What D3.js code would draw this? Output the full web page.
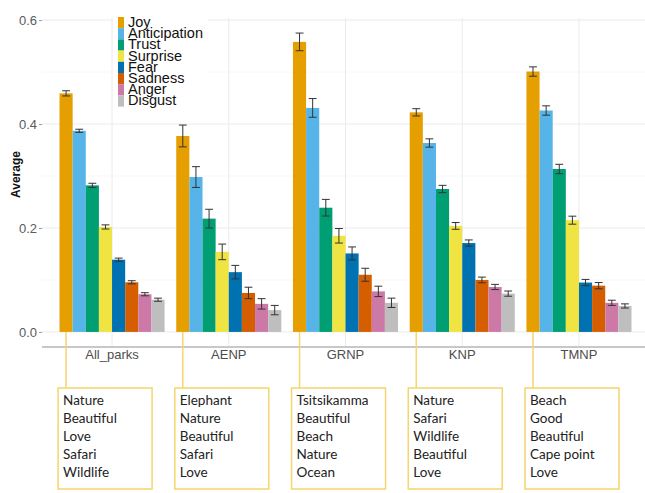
<!DOCTYPE html>
<html>
<head>
<meta charset="utf-8">
<script src="https://cdn.jsdelivr.net/npm/d3@7"></script>
<style>
  body { margin: 0; background: #fff; }
  svg text { font-family: "Liberation Sans", Arial, sans-serif; }
</style>
</head>
<body>
<div id="chart-area"></div>
<script>
// parks on the x axis
const parks = ["All_parks", "AENP", "GRNP", "KNP", "TMNP"]
const emotions = ["Joy", "Anticipation", "Trust", "Surprise", "Fear", "Sadness", "Anger", "Disgust"]
const colors = ["#E69F00", "#56B4E9", "#009E73", "#F0E442", "#0072B2", "#D55E00", "#CC79A7", "#BEBEBE"]

// average per emotion, one value per park (same order as parks)
const joy = [0.459, 0.377, 0.558, 0.4225, 0.501]
const anticipation = [0.387, 0.298, 0.431, 0.3635, 0.426]
const trust = [0.282, 0.218, 0.239, 0.275, 0.3135]
const surprise = [0.202, 0.154, 0.185, 0.204, 0.215]
const fear = [0.139, 0.115, 0.151, 0.171, 0.095]
const sadness = [0.0955, 0.075, 0.110, 0.100, 0.089]
const anger = [0.0725, 0.054, 0.078, 0.0865, 0.056]
const disgust = [0.062, 0.042, 0.056, 0.0737, 0.050]

// standard errors
const joyErr = [0.005, 0.021, 0.017, 0.007, 0.009]
const anticipationErr = [0.003, 0.020, 0.018, 0.008, 0.009]
const trustErr = [0.004, 0.018, 0.016, 0.007, 0.009]
const surpriseErr = [0.004, 0.015, 0.014, 0.0065, 0.0077]
const fearErr = [0.003, 0.013, 0.0125, 0.006, 0.006]
const sadnessErr = [0.003, 0.011, 0.0125, 0.0055, 0.006]
const angerErr = [0.003, 0.010, 0.010, 0.005, 0.005]
const disgustErr = [0.003, 0.009, 0.009, 0.005, 0.004]

const yTicks = [0, 0.2, 0.4, 0.6]
const yMinor = [0.1, 0.3, 0.5]

// top words for each park
const allParksWords = ["Nature", "Beautiful", "Love", "Safari", "Wildlife"]
const aenpWords = ["Elephant", "Nature", "Beautiful", "Safari", "Love"]
const grnpWords = ["Tsitsikamma", "Beautiful", "Beach", "Nature", "Ocean"]
const knpWords = ["Nature", "Safari", "Wildlife", "Beautiful", "Love"]
const tmnpWords = ["Beach", "Good", "Beautiful", "Cape point", "Love"]

const series = [joy, anticipation, trust, surprise, fear, sadness, anger, disgust]
const errors = [joyErr, anticipationErr, trustErr, surpriseErr, fearErr, sadnessErr, angerErr, disgustErr]
const words = [allParksWords, aenpWords, grnpWords, knpWords, tmnpWords]

const data = []
parks.forEach((p, i) => {
	emotions.forEach((e, j) => {
		data.push({ park: p, emotion: e, value: series[j][i], err: errors[j][i] })
	})
})

const width = 645, height = 493
const panel = { left: 42, right: 649, top: 18, bottom: 347 }

const svg = d3.select("#chart-area").append("svg")
	.attr("width", width)
	.attr("height", height)

const x = d3.scalePoint()
	.domain(parks)
	.range([panel.left, panel.right])
	.padding(0.6)

const step = x.step()
const xInner = d3.scaleBand()
	.domain(emotions)
	.range([-0.45 * step, 0.45 * step])

const y = d3.scaleLinear()
	.domain([-0.029, 0.604])
	.range([panel.bottom, panel.top])

const color = d3.scaleOrdinal().domain(emotions).range(colors)

// grid
svg.append("g").selectAll("line")
	.data(yMinor)
	.enter().append("line")
	.attr("x1", panel.left).attr("x2", width)
	.attr("y1", d => y(d)).attr("y2", d => y(d))
	.attr("stroke", "#f2f2f2").attr("stroke-width", 0.6)

svg.append("g").selectAll("line")
	.data(yTicks)
	.enter().append("line")
	.attr("x1", panel.left).attr("x2", width)
	.attr("y1", d => y(d)).attr("y2", d => y(d))
	.attr("stroke", "#ebebeb").attr("stroke-width", 1)

svg.append("g").selectAll("line")
	.data(parks)
	.enter().append("line")
	.attr("x1", d => x(d)).attr("x2", d => x(d))
	.attr("y1", panel.top).attr("y2", panel.bottom)
	.attr("stroke", "#ebebeb").attr("stroke-width", 1)

// bars
svg.append("g").selectAll("rect")
	.data(data)
	.enter().append("rect")
	.attr("x", d => x(d.park) + xInner(d.emotion))
	.attr("width", xInner.bandwidth())
	.attr("y", d => y(d.value))
	.attr("height", d => y(0) - y(d.value))
	.attr("fill", d => color(d.emotion))

// error bars
const eb = svg.append("g").attr("stroke", "#333").attr("stroke-width", 1)
const capW = xInner.bandwidth() * 0.3
data.forEach(d => {
	const cx = x(d.park) + xInner(d.emotion) + xInner.bandwidth() / 2
	eb.append("line").attr("x1", cx).attr("x2", cx)
		.attr("y1", y(d.value + d.err)).attr("y2", y(d.value - d.err))
	eb.append("line").attr("x1", cx - capW).attr("x2", cx + capW)
		.attr("y1", y(d.value + d.err)).attr("y2", y(d.value + d.err))
	eb.append("line").attr("x1", cx - capW).attr("x2", cx + capW)
		.attr("y1", y(d.value - d.err)).attr("y2", y(d.value - d.err))
})

// y axis
const yAxis = svg.append("g")
	.attr("transform", `translate(${panel.left},0)`)
	.call(d3.axisLeft(y).tickValues(yTicks).tickFormat(d3.format(".1f")).tickSize(3).tickPadding(2))
yAxis.select(".domain").remove()
yAxis.selectAll(".tick line").attr("stroke", "#999")
yAxis.selectAll(".tick text")
	.attr("fill", "#5a5a5a")
	.style("font-size", "13px")
	.style("font-family", "Liberation Sans, Arial, sans-serif")

svg.append("text")
	.attr("transform", `translate(20,${(panel.top + panel.bottom) / 2 - 8}) rotate(-90)`)
	.attr("text-anchor", "middle")
	.style("font-size", "12px")
	.style("font-weight", "bold")
	.attr("fill", "#111")
	.text("Average")

// x axis line and labels
svg.append("line")
	.attr("x1", panel.left).attr("x2", width)
	.attr("y1", panel.bottom).attr("y2", panel.bottom)
	.attr("stroke", "#c8c8c8").attr("stroke-width", 2)

svg.append("g").selectAll("text")
	.data(parks)
	.enter().append("text")
	.attr("x", d => x(d))
	.attr("y", 359)
	.attr("text-anchor", "middle")
	.attr("fill", "#4d4d4d")
	.style("font-size", "13px")
	.text(d => d)

// legend
const lg = svg.append("g")
lg.append("rect")
	.attr("x", 113).attr("y", 13).attr("width", 95).attr("height", 99)
	.attr("fill", "#fff")
emotions.forEach((e, i) => {
	lg.append("rect")
		.attr("x", 118).attr("y", 17 + i * 11.2)
		.attr("width", 6).attr("height", 11.2)
		.attr("fill", color(e))
	lg.append("text")
		.attr("x", 128).attr("y", 27 + i * 11.2)
		.attr("fill", "#111")
		.style("font-size", "14.5px")
		.text(e)
})

// keyword boxes under each park
const boxes = svg.append("g")
parks.forEach((p, i) => {
	const cx = x(p) + xInner("Joy") + xInner.bandwidth() / 2
	boxes.append("line")
		.attr("x1", cx).attr("x2", cx)
		.attr("y1", y(0)).attr("y2", 388)
		.attr("stroke", "#f6d56b").attr("stroke-width", 1.5)
	boxes.append("rect")
		.attr("x", cx - 8).attr("y", 388)
		.attr("width", 94).attr("height", 101)
		.attr("fill", "none")
		.attr("stroke", "#f6d56b").attr("stroke-width", 1.5)
	words[i].forEach((w, k) => {
		boxes.append("text")
			.attr("x", cx - 3).attr("y", 405 + k * 18)
			.attr("fill", "#222")
			.style("font-family", "Lato, 'Noto Sans', sans-serif")
			.style("font-size", "13.5px")
			.text(w)
	})
})
</script>
</body>
</html>
